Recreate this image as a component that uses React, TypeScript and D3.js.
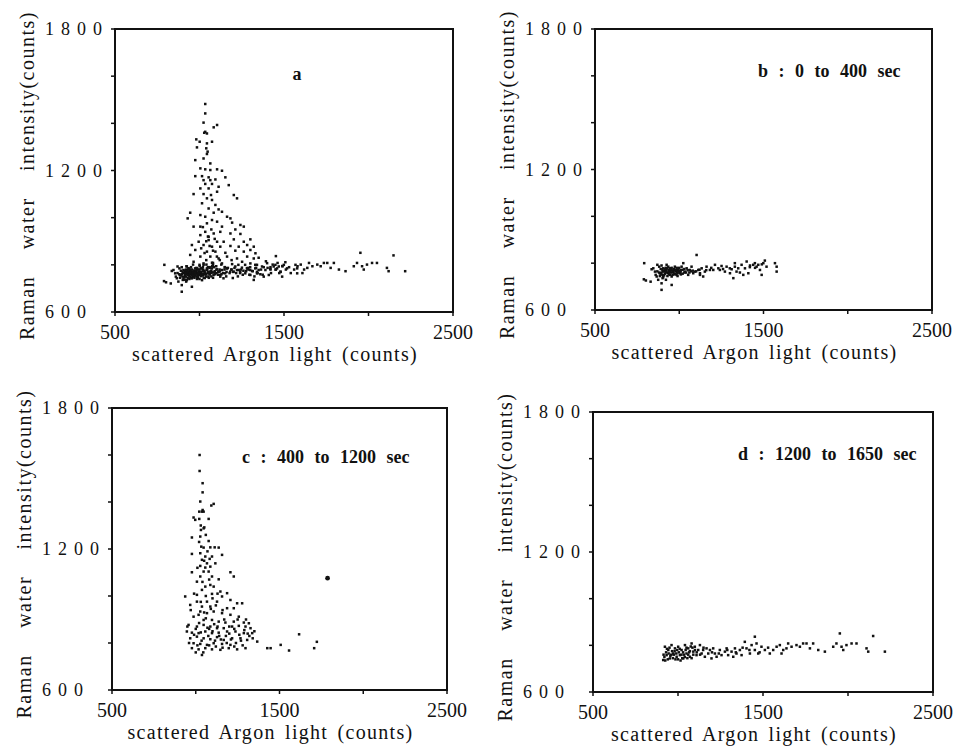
import React, { useEffect, useRef } from 'react';
import * as d3 from 'd3';

type Pt = [number, number];

// axis ticks (every tick drawn, only some labelled)
const xTicks = [500, 1000, 1500, 2000, 2500];
const xTickLabels = ['500', '', '1500', '', '2500'];
const yTicks = [600, 800, 1000, 1200, 1400, 1600, 1800];
const yTickLabels = ['600', '', '', '1200', '', '', '1800'];

// b : 0 to 400 sec  [argon counts, raman counts]
const bPoints: Pt[] = [
  [792, 800], [790, 731], [802, 726], [830, 721], [836, 774], [856, 764], [870, 793], [866, 743],
  [885, 757], [875, 729], [895, 714], [905, 778], [915, 771], [925, 793], [935, 757], [945, 778],
  [955, 743], [964, 764], [974, 785], [984, 750], [994, 771], [1004, 757], [1014, 785], [1024, 800],
  [1034, 764], [1044, 778], [1053, 750], [1063, 771], [1073, 785], [1083, 757], [1093, 764], [1103, 835],
  [1113, 771], [1123, 757], [1133, 778], [1152, 764], [1162, 785], [1182, 771], [1202, 771], [1212, 793],
  [1232, 778], [1241, 771], [1251, 788], [1271, 764], [1281, 785], [1301, 757], [1311, 774], [1321, 736],
  [1330, 800], [1340, 764], [1350, 778], [1360, 760], [1370, 793], [1380, 750], [1390, 778], [1400, 807],
  [1410, 757], [1419, 783], [1439, 793], [1449, 800], [1459, 785], [1469, 793], [1479, 771], [1489, 750],
  [1499, 800], [1508, 811], [1518, 785], [1568, 800], [1578, 764], [1578, 785], [895, 686], [955, 707],
  [846, 778], [881, 785], [901, 736], [921, 729], [941, 764], [968, 771], [988, 760], [1008, 764],
  [1123, 750], [1142, 743],
  [880, 760], [890, 775], [900, 750], [910, 765], [920, 780], [930, 745], [940, 770], [950, 760],
  [960, 750], [970, 775], [980, 765], [990, 745], [1000, 780], [1010, 770], [1020, 755], [1030, 775],
  [1040, 760], [1050, 770], [1060, 760], [1070, 765], [885, 745], [895, 790], [905, 765], [915, 755],
  [925, 770], [935, 785], [945, 750], [955, 770], [965, 760], [975, 755], [985, 780], [995, 765],
  [905, 740], [925, 760], [945, 765], [915, 775], [935, 760], [955, 780], [975, 770], [895, 760],
  [870, 765], [860, 750], [1080, 768], [1100, 765], [1120, 772], [1160, 770], [1190, 780], [1260, 775],
  [1300, 778], [1330, 785], [1420, 790], [1450, 780], [1490, 795],
  [890, 755], [900, 770], [910, 748], [920, 762], [930, 778], [940, 752], [950, 772], [960, 765],
  [970, 752], [980, 770], [990, 758], [1000, 768], [1010, 752], [1020, 772], [1030, 760],
];

// c : 400 to 1200 sec
const cPoints: Pt[] = [
  [1023, 1600], [1023, 1532], [1041, 1480], [1041, 1441], [1027, 1402], [1107, 1392], [1093, 1385],
  [1041, 1366], [1037, 1359], [1047, 1359], [1021, 1359], [987, 1334], [997, 1324], [1021, 1328],
  [1077, 1328], [1047, 1288], [1031, 1281], [1051, 1292], [977, 1249], [1027, 1253], [1077, 1234],
  [1033, 1210], [1047, 1206], [1087, 1207], [1113, 1207], [1137, 1206], [977, 1179], [1027, 1182],
  [1057, 1168], [1097, 1168], [1157, 1175], [1037, 1154], [1083, 1158], [1067, 1139], [1087, 1125],
  [1027, 1128], [1057, 1121], [1117, 1139], [977, 1101], [1047, 1104], [1077, 1104], [1207, 1101],
  [1097, 1083], [1027, 1083], [1137, 1071], [1227, 1083], [1007, 1061], [1057, 1040], [1087, 1047],
  [1107, 1040], [1037, 1026], [1147, 1019], [1187, 1012], [937, 998], [1007, 1005], [1097, 1009],
  [1157, 998], [1207, 983], [1007, 976], [1067, 976], [1127, 976], [1247, 969], [1277, 969],
  [967, 962], [1037, 955], [1087, 955], [1187, 948], [1227, 948], [1027, 934], [1067, 927],
  [1107, 934], [1157, 927], [1207, 920], [1257, 912], [987, 912], [1017, 920], [1047, 898],
  [1097, 898], [1137, 891], [1177, 887], [1227, 891], [1287, 887], [1317, 884], [957, 877],
  [1007, 870], [1047, 877], [1087, 870], [1127, 863], [1167, 863], [1217, 870], [1257, 873],
  [1297, 870], [1327, 863], [947, 849], [977, 844], [1017, 842], [1057, 849], [1097, 842],
  [1137, 844], [1187, 849], [1237, 849], [1287, 842], [1337, 842], [967, 820], [1007, 827],
  [1047, 820], [1087, 816], [1127, 825], [1167, 813], [1217, 820], [1267, 820], [1307, 813],
  [987, 799], [1027, 796], [1067, 792], [1107, 799], [1157, 796], [1207, 792], [1367, 806],
  [977, 778], [1017, 773], [1057, 778], [1097, 773], [1147, 771], [1197, 778], [1247, 773],
  [1297, 778], [1427, 778], [1447, 778], [1507, 792], [1557, 768], [1617, 837], [1707, 778],
  [1723, 805], [1037, 749],
  [1000, 860], [1020, 885], [1060, 905], [1080, 860], [1110, 880], [1140, 830], [1170, 900],
  [1200, 840], [1230, 860], [1260, 835], [1290, 855], [1320, 830], [990, 835], [1035, 810],
  [1075, 830], [1115, 810], [1150, 815], [1185, 800], [1240, 800], [1280, 790], [1340, 820],
  [1010, 790], [1045, 760], [1080, 790], [1120, 785], [1160, 780], [1230, 785], [1000, 760],
  [960, 800], [950, 870], [1050, 930], [1090, 945], [1120, 960], [1160, 940], [1030, 975],
  [1060, 1000], [1100, 990], [1130, 1010], [1040, 1060], [1080, 1070], [1010, 1120], [1050, 1150],
  [1070, 1190], [1020, 1230], [1060, 1260], [1030, 1300], [990, 1010], [970, 940], [1100, 850],
  [1200, 870], [1250, 900], [1300, 900], [1310, 840], [1070, 865], [1030, 845], [1130, 870],
  [1180, 830], [1210, 815], [1270, 810], [1350, 850],
];
const cOutlier: Pt[] = [[1787, 1076]];

// d : 1200 to 1650 sec
const dPoints: Pt[] = [
  [913, 737], [923, 794], [933, 758], [943, 780], [952, 744], [962, 801], [972, 765], [982, 787],
  [992, 751], [1001, 794], [1011, 758], [1021, 780], [1031, 744], [1041, 801], [1050, 765], [1060, 787],
  [1070, 751], [1080, 808], [1090, 773], [1099, 794], [1109, 758], [1119, 780], [1129, 801], [1139, 765],
  [1148, 780], [1158, 751], [1168, 787], [1178, 765], [1188, 780], [1197, 744], [1207, 787], [1217, 765],
  [1227, 751], [1246, 780], [1256, 758], [1276, 773], [1286, 787], [1295, 758], [1315, 773], [1325, 751],
  [1335, 787], [1344, 765], [1364, 780], [1374, 758], [1393, 815], [1403, 787], [1423, 765], [1433, 801],
  [1452, 837], [1452, 780], [1462, 808], [1472, 765], [1491, 794], [1511, 780], [1540, 765], [1560, 780],
  [1580, 794], [1599, 801], [1609, 765], [1619, 780], [1638, 787], [1648, 808], [1668, 794], [1697, 801],
  [1717, 794], [1736, 808], [1756, 808], [1776, 787], [1795, 808], [1825, 780], [1864, 773], [1913, 794],
  [1932, 808], [1952, 851], [1962, 794], [1972, 780], [1991, 801], [2021, 808], [2050, 808], [2109, 787],
  [2119, 773], [2148, 840], [2217, 773],
  [920, 750], [930, 770], [940, 740], [950, 790], [960, 760], [970, 745], [980, 775], [990, 765],
  [1000, 740], [1010, 785], [1020, 760], [1030, 770], [1040, 750], [1050, 790], [1060, 760], [1070, 775],
  [1080, 745], [1090, 760], [1100, 780], [925, 735], [945, 765], [965, 775], [985, 740], [1005, 770],
  [1025, 745], [1045, 780], [1065, 770], [1085, 790], [1015, 735], [955, 755], [975, 760], [995, 780],
  [1035, 760], [1055, 745], [1075, 795], [915, 760], [935, 785], [1110, 770], [1130, 760], [1150, 790],
  [1200, 770], [1240, 765], [1290, 780], [1340, 770], [1380, 790], [1420, 780], [1480, 770], [1530, 790],
];

// a : whole run, the peak, low band shared with b and d
const aPeak: Pt[] = [
  [1034, 1482], [1034, 1442], [1024, 1403], [1104, 1393], [1084, 1383], [1034, 1364], [1044, 1357],
  [1028, 1360], [981, 1332], [1001, 1322], [1074, 1322], [1044, 1315], [985, 1298], [1040, 1294],
  [1048, 1280], [1044, 1270], [975, 1244], [1024, 1251], [1064, 1230], [1005, 1209], [1034, 1205],
  [1064, 1202], [1104, 1205], [1133, 1199], [975, 1176], [1015, 1176], [1054, 1171], [1024, 1159],
  [1064, 1159], [1094, 1162], [1153, 1171], [1034, 1143], [1074, 1143], [1005, 1124], [1054, 1124],
  [1113, 1131], [1173, 1138], [965, 1100], [1024, 1100], [1068, 1096], [1104, 1110], [1203, 1096],
  [1044, 1082], [1074, 1075], [1015, 1061], [1094, 1054], [1222, 1082], [1054, 1039], [1113, 1035],
  [1133, 1025], [1084, 1021], [945, 1021], [1005, 1011], [1034, 1004], [1163, 1004], [1183, 997],
  [930, 997], [1074, 990], [1104, 983], [1193, 979], [1242, 969], [1044, 976], [1005, 962],
  [965, 962], [1133, 962], [1212, 950], [1262, 962], [1034, 940], [1084, 933], [1123, 940],
  [1183, 933], [1005, 926], [1054, 919], [1242, 931], [995, 898], [1054, 905], [1104, 898],
  [1143, 898], [1203, 908], [1262, 898], [1301, 908], [955, 884], [1024, 884], [1074, 877],
  [1123, 877], [1183, 880], [1232, 877], [1282, 884], [1321, 877], [975, 863], [1044, 856],
  [1094, 856], [1153, 851], [1212, 860], [1262, 856], [1301, 863], [1331, 849], [945, 842],
  [1005, 835], [1064, 835], [1113, 827], [1163, 835], [1222, 827], [1282, 835], [1321, 827],
  [965, 813], [1024, 806], [1074, 809], [1133, 806], [1193, 803], [1252, 813], [1301, 806],
  [985, 785], [1044, 785], [1104, 781], [1163, 785], [1222, 778], [1282, 785],
  [1010, 870], [1040, 900], [1060, 880], [1080, 860], [1030, 850], [1050, 920], [1070, 950],
  [1020, 960], [1090, 910], [1000, 800], [1040, 820], [1080, 800], [1120, 820], [1060, 790],
  [1020, 790], [1150, 790], [1190, 820], [1230, 800], [1270, 800], [1300, 790], [1340, 800],
  [1350, 830],
];
const aPoints: Pt[] = [...bPoints, ...dPoints, ...aPeak];

const panelLabels = ['a', 'b : 0 to 400 sec', 'c : 400 to 1200 sec', 'd : 1200 to 1650 sec'];
const xTitle = 'scattered Argon light (counts)';
const yTitle = 'Raman water intensity(counts)';

const panels = [
  { pts: aPoints, big: [] as Pt[], l: 115, t: 29, r: 453, b: 312, lx: 182, ly: 51, anchor: 'middle' },
  { pts: bPoints, big: [] as Pt[], l: 595, t: 29, r: 932, b: 310, lx: 163, ly: 48, anchor: 'start' },
  { pts: cPoints, big: cOutlier, l: 112, t: 408, r: 447, b: 690, lx: 130, ly: 55, anchor: 'start' },
  { pts: dPoints, big: [] as Pt[], l: 593, t: 412, r: 933, b: 692, lx: 145, ly: 48, anchor: 'start' },
];

const serif = "'Liberation Serif', 'Times New Roman', serif";

const App = () => {
  const ref = useRef<SVGSVGElement>(null);

  useEffect(() => {
    const svg = d3.select(ref.current);
    svg.selectAll('*').remove();

    panels.forEach((p, i) => {
      const x = d3.scaleLinear().domain([500, 2500]).range([p.l, p.r]);
      const y = d3.scaleLinear().domain([600, 1800]).range([p.b, p.t]);
      const g = svg.append('g').style('font-family', serif).attr('fill', '#111');

      // frame
      g.append('rect')
        .attr('x', p.l).attr('y', p.t)
        .attr('width', p.r - p.l).attr('height', p.b - p.t)
        .attr('fill', 'none').attr('stroke', '#111').attr('stroke-width', 2);

      // ticks
      g.selectAll('.xt').data(xTicks).join('line')
        .attr('x1', d => x(d)).attr('x2', d => x(d))
        .attr('y1', p.b).attr('y2', p.b + 4)
        .attr('stroke', '#111').attr('stroke-width', 1.5);
      g.selectAll('.yt').data(yTicks).join('line')
        .attr('x1', p.l - 4).attr('x2', p.l)
        .attr('y1', d => y(d)).attr('y2', d => y(d))
        .attr('stroke', '#111').attr('stroke-width', 1.5);

      // tick labels
      g.selectAll('.xl').data(xTicks).join('text')
        .attr('x', d => x(d)).attr('y', p.b + 27)
        .attr('text-anchor', 'middle')
        .style('font-size', '20px')
        .text((d, k) => xTickLabels[k]);
      g.selectAll('.yl').data(yTicks).join('text')
        .attr('x', p.l - 70).attr('y', d => y(d) + 6)
        .attr('text-anchor', 'start')
        .style('font-size', '18px')
        .style('letter-spacing', '7px')
        .text((d, k) => yTickLabels[k]);

      // axis titles
      g.append('text')
        .attr('x', (p.l + p.r) / 2 - 9).attr('y', p.b + 49)
        .attr('text-anchor', 'middle')
        .style('font-size', '20px')
        .style('letter-spacing', '1.3px')
        .style('word-spacing', '3px')
        .text(xTitle);
      g.append('text')
        .attr('transform', `translate(${p.l - 81},${(p.t + p.b) / 2 + 5}) rotate(-90)`)
        .attr('text-anchor', 'middle')
        .style('font-size', '20px')
        .style('letter-spacing', '1.5px')
        .style('word-spacing', '20px')
        .text(yTitle);

      // panel label
      g.append('text')
        .attr('x', p.l + p.lx).attr('y', p.t + p.ly)
        .attr('text-anchor', p.anchor)
        .style('font-size', '18px')
        .style('font-weight', 'bold')
        .style('word-spacing', '6px')
        .text(panelLabels[i]);

      // points
      g.selectAll('.pt').data(p.pts).join('rect')
        .attr('x', d => x(d[0]) - 1.25).attr('y', d => y(d[1]) - 1.25)
        .attr('width', 2.5).attr('height', 2.5)
        .attr('fill', '#111');
      g.selectAll('.big').data(p.big).join('circle')
        .attr('cx', d => x(d[0])).attr('cy', d => y(d[1]))
        .attr('r', 2.4).attr('fill', '#111');
    });
  }, []);

  return (
    <div style={{ position: 'absolute', left: 0, top: 0 }}>
      <svg ref={ref} width={960} height={751} style={{ display: 'block', background: '#fff' }} />
    </div>
  );
};

export default App;
